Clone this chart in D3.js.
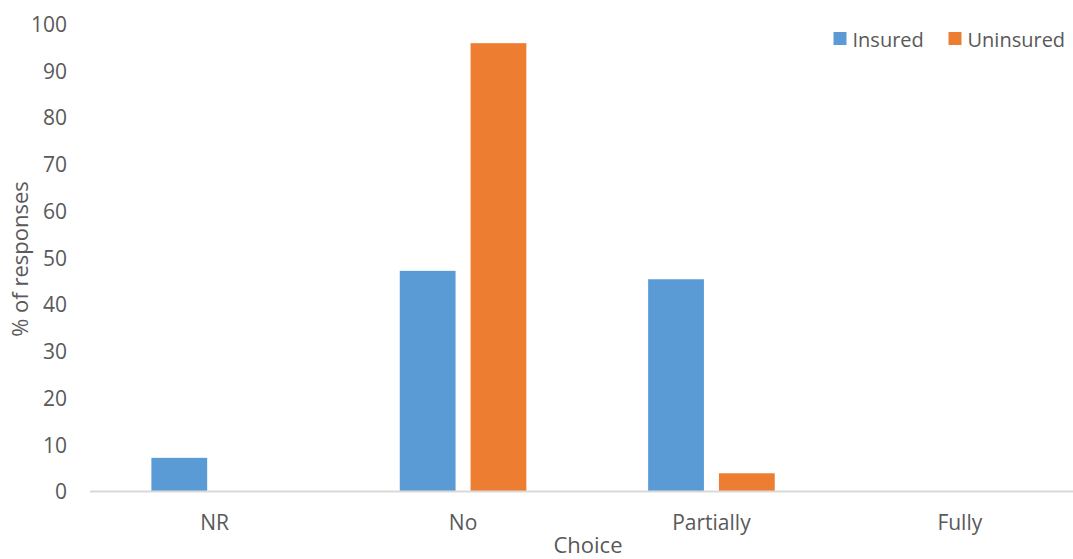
<!DOCTYPE html>
<html>
<head>
<meta charset="utf-8">
<script src="https://cdn.jsdelivr.net/npm/d3@7"></script>
<style>
  html, body { margin: 0; padding: 0; background: #fff; }
  svg text { font-family: "Open Sans", sans-serif; fill: #595959; }
</style>
</head>
<body>
<svg id="chart" width="1073" height="559"></svg>
<script>
// ---- data ----
const categories = ["NR", "No", "Partially", "Fully"];
const seriesNames = ["Insured", "Uninsured"];
const insured = [7.2, 47.2, 45.4, 0];
const uninsured = [0, 95.9, 3.9, 0];
const yTicks = [0, 10, 20, 30, 40, 50, 60, 70, 80, 90, 100];
const colors = ["#5b9bd5", "#ed7d31"];
const xTitle = "Choice";
const yTitle = "% of responses";

const values = [insured, uninsured];
const rows = categories.map((c, i) => ({
  cat: c,
  vals: seriesNames.map((s, j) => ({ s, v: values[j][i], color: colors[j] }))
}));

const svg = d3.select("#chart");

const x0 = d3.scaleBand().domain(categories).range([90.5, 1084]).paddingInner(0).paddingOuter(0);
const x1 = d3.scaleBand().domain(seriesNames).range([0, x0.bandwidth()]).paddingInner(0.212).paddingOuter(0.86);
const y = d3.scaleLinear().domain([0, 100]).range([491.5, 24]);

// bars
const g = svg.append("g");
g.selectAll("g.cat").data(rows).join("g")
  .attr("class", "cat")
  .attr("transform", d => `translate(${x0(d.cat)},0)`)
  .selectAll("rect").data(d => d.vals.filter(v => v.v > 0)).join("rect")
  .attr("x", d => x1(d.s))
  .attr("width", x1.bandwidth())
  .attr("y", d => y(d.v))
  .attr("height", d => y(0) - y(d.v))
  .attr("fill", d => d.color);

// y axis (labels only)
const yAxis = d3.axisLeft(y).tickValues(yTicks).tickSize(0).tickPadding(0);
const yg = svg.append("g").attr("transform", "translate(67,0)").call(yAxis);
yg.select(".domain").remove();
yg.selectAll("text").style("font-size", "21px").attr("fill", "#595959")
  .style("font-family", "'Open Sans', sans-serif").attr("dy", "0.35em");

// x axis
const xAxis = d3.axisBottom(x0).tickSize(0).tickPadding(0);
const xg = svg.append("g").attr("transform", `translate(0,${y(0)})`).call(xAxis);
xg.select(".domain").attr("stroke", "#d9d9d9").attr("stroke-width", 2)
  .attr("d", `M90,0H1073`);
xg.selectAll("text").style("font-size", "21px").attr("fill", "#595959")
  .style("font-family", "'Open Sans', sans-serif")
  .attr("dy", null).attr("y", 38);

// axis titles
svg.append("text")
  .attr("x", 588).attr("y", 553)
  .attr("text-anchor", "middle")
  .style("font-size", "22px")
  .text(xTitle);

svg.append("text")
  .attr("transform", "translate(28,259) rotate(-90)")
  .attr("text-anchor", "middle")
  .style("font-size", "22px")
  .text(yTitle);

// legend
const legendX = [833.5, 948.5];
const lg = svg.append("g");
seriesNames.forEach((s, i) => {
  lg.append("rect").attr("x", legendX[i]).attr("y", 32).attr("width", 13).attr("height", 13).attr("fill", colors[i]);
  lg.append("text").attr("x", legendX[i] + 19).attr("y", 46.5).style("font-size", "20px").text(s);
});
</script>
</body>
</html>
